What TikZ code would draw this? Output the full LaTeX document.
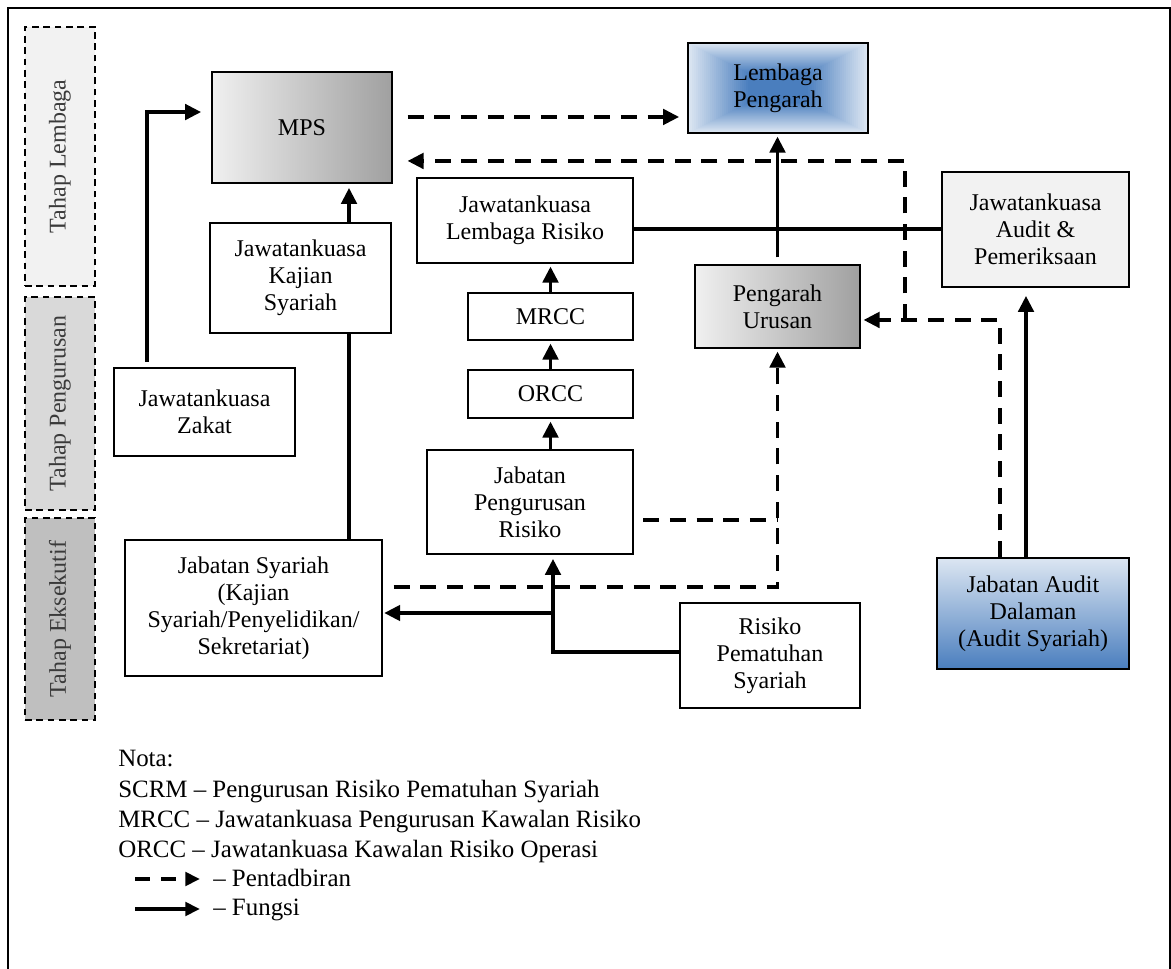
\documentclass[tikz,border=0pt]{standalone}
\usepackage{fontspec}
\setmainfont{Liberation Serif}
\usetikzlibrary{arrows.meta,calc}

\definecolor{bandA}{HTML}{F2F2F2}
\definecolor{bandB}{HTML}{D9D9D9}
\definecolor{bandC}{HTML}{BFBFBF}
\definecolor{greyL}{HTML}{F0F0F0}
\definecolor{greyD}{HTML}{A0A0A0}
\definecolor{blueL}{HTML}{DCE6F2}
\definecolor{blueD}{HTML}{4A7EBE}
\definecolor{panel}{HTML}{F2F2F2}
\definecolor{bandtext}{HTML}{3A3A3A}

\tikzset{
  box/.style={draw, line width=1.3pt, inner sep=0pt, align=center,
    font=\fontsize{18}{20.25}\selectfont},
  sz/.style 2 args={minimum width=#1*0.75pt, minimum height=#2*0.75pt},
  band/.style={draw, dash pattern=on 5pt off 3.5pt, line width=1.1pt, inner sep=0pt},
  bandlabel/.style={rotate=90, text=bandtext, font=\fontsize{18}{20.25}\selectfont},
  fn/.style={line width=2.8pt, -{Triangle[length=12pt,width=11.5pt]}},
  fnline/.style={line width=2.8pt},
  adm/.style={line width=2.8pt, dash pattern=on 12pt off 8pt,
    -{Triangle[length=12pt,width=11.5pt]}},
  admline/.style={line width=2.8pt, dash pattern=on 12pt off 8pt},
  legtext/.style={anchor=base west, inner sep=0pt,
    font=\fontsize{18.7}{22.5}\selectfont},
  % rectangular "from centre" blue fill built from nested rectangles
  lpfill/.style={path picture={
    \foreach \i in {0,...,44}{
      \pgfmathsetmacro{\s}{1-\i/45}
      \pgfmathtruncatemacro{\m}{min(100,round(100*\i/30))}
      \fill[blueD!\m!blueL]
        ($(path picture bounding box.center)!\s!(path picture bounding box.south west)$)
        rectangle
        ($(path picture bounding box.center)!\s!(path picture bounding box.north east)$);
    }}},
}

\begin{document}
\begin{tikzpicture}[x=0.75pt,y=-0.75pt]
\useasboundingbox (0,0) rectangle (1171,969);

% outer frame
\draw[line width=1.5pt] (8,969) -- (8,8) -- (1169.5,8) -- (1169.5,969);

% level bands
\node[band, fill=bandA, sz={70}{259}] (tl) at (60,156.5) {};
\node[bandlabel] (tlt) at (tl.center) {Tahap Lembaga};
\node[band, fill=bandB, sz={70}{213}] (tp) at (60,403.5) {};
\node[bandlabel] (tpt) at (tp.center) {Tahap Pengurusan};
\node[band, fill=bandC, sz={70}{202}] (te) at (60,619) {};
\node[bandlabel] (tet) at (te.center) {Tahap Eksekutif};

% boxes
\node[box, sz={180}{111}, left color=greyL, right color=greyD] (mps) at (302,127.5) {MPS};
\node[box, sz={180}{90}, lpfill] (lp) at (778,88) {Lembaga\\Pengarah};
\node[box, sz={165}{83}, left color=greyL, right color=greyD] (pu) at (777.5,306.5) {Pengarah\\Urusan};
\node[box, sz={187}{115}, fill=panel] (jap) at (1035.5,229.5) {Jawatankuasa\\Audit \&\\Pemeriksaan};
\node[box, sz={181}{110}] (jks) at (300.5,278) {Jawatankuasa\\Kajian\\Syariah};
\node[box, sz={216}{85}] (jlr) at (525,220.5) {Jawatankuasa\\Lembaga Risiko};
\node[box, sz={165}{47}] (mrcc) at (550.5,316.5) {MRCC};
\node[box, sz={165}{48}] (orcc) at (550.5,394) {ORCC};
\node[box, sz={206}{104}] (jpr) at (530,502) {Jabatan\\Pengurusan\\Risiko};
\node[box, sz={181}{88}] (zakat) at (204.5,412) {Jawatankuasa\\Zakat};
\node[box, sz={257}{136}] (js) at (253.5,608) {Jabatan Syariah\\(Kajian\\Syariah/Penyelidikan/\\Sekretariat)};
\node[box, sz={180}{105}] (rps) at (770,655.5) {Risiko\\Pematuhan\\Syariah};
\node[box, sz={192}{111}, top color=blueL, bottom color=blueD] (jad) at (1033,613.5) {Jabatan Audit\\Dalaman\\(Audit Syariah)};

% functional links
\draw[fn, shorten <=4pt, shorten >=7.5pt] ([xshift=-43.1pt]zakat.north) |- ([yshift=11.6pt]mps.west);
\draw[fn, shorten >=3pt] ([xshift=36.4pt]jks.north) -- ([xshift=36.4pt]jks.north |- mps.south);
\draw[fnline] ([xshift=36.4pt]jks.south) -- ([xshift=36.4pt]jks.south |- js.north);
\draw[fnline] ([yshift=-6.4pt]jlr.east) -- ([yshift=-6.4pt]jlr.east -| jap.west);
\draw[fn, shorten <=5pt, shorten >=2pt] (pu.north) -- (pu.north |- lp.south);
\draw[fn, shorten >=2pt] (mrcc.north) -- (mrcc.north |- jlr.south);
\draw[fn, shorten >=2pt] (orcc.north) -- (mrcc.south);
\draw[fn, shorten >=2pt] (orcc.south |- jpr.north) -- (orcc.south);
\draw[fn, shorten >=3pt] ([yshift=2.6pt]rps.west) -| ([xshift=17.25pt]jpr.south);
\coordinate (split) at (553,613);
\draw[fn, shorten >=1pt] (split) -- (split -| js.east);
\draw[fn, shorten >=6pt] ([xshift=-5.25pt]jad.north) -- ([xshift=-5.25pt]jad.north |- jap.south);

% administrative links
\draw[adm, shorten <=11pt, shorten >=6pt] ([yshift=7.9pt]mps.east) -- ([yshift=7.9pt]mps.east -| lp.west);
\draw[adm, shorten >=2pt] ([xshift=-24.75pt]jad.north) |- ([yshift=-10.1pt]pu.east);
\coordinate (jn) at (905,320);
\draw[adm, shorten >=11pt] (jn) |- ([yshift=-25.1pt]mps.east);
\draw[admline, shorten <=7pt] ([yshift=-13.5pt]jpr.east) -- ([yshift=-13.5pt]jpr.east -| pu.south);
\draw[adm, shorten <=8pt, shorten >=2pt] ([yshift=15.75pt]js.east) -| (pu.south);

% notes
\node[legtext] (n0) at (118,766) {Nota:};
\node[legtext] (n1) at (118,797) {SCRM – Pengurusan Risiko Pematuhan Syariah};
\node[legtext] (n2) at (118,827) {MRCC – Jawatankuasa Pengurusan Kawalan Risiko};
\node[legtext] (n3) at (118,857) {ORCC – Jawatankuasa Kawalan Risiko Operasi};
\node[legtext] (n4) at (213,886) {– Pentadbiran};
\node[legtext] (n5) at (213,915) {– Fungsi};
\coordinate (k1a) at (135,879);
\coordinate (k1b) at (200,879);
\coordinate (k2a) at (135,909);
\coordinate (k2b) at (200,909);
\draw[line width=2.8pt, dash pattern=on 11pt off 8.5pt, -{Triangle[length=11pt,width=10pt]}] (k1a) -- (k1b);
\draw[line width=2.8pt, -{Triangle[length=11pt,width=10pt]}] (k2a) -- (k2b);
\end{tikzpicture}
\end{document}
